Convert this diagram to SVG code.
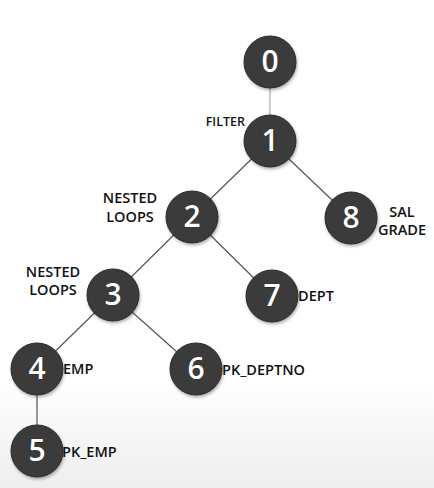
<svg xmlns="http://www.w3.org/2000/svg" width="434" height="488" viewBox="0 0 434 488">
<defs>
<linearGradient id="bg" x1="0" y1="0" x2="0" y2="1">
<stop offset="0" stop-color="#ffffff"/>
<stop offset="0.78" stop-color="#ffffff"/>
<stop offset="1" stop-color="#eeeeee"/>
</linearGradient>
<filter id="sh" x="-30%" y="-30%" width="160%" height="160%">
<feDropShadow dx="1" dy="2" stdDeviation="1.5" flood-color="#000" flood-opacity="0.3"/>
</filter>
</defs>
<style>
.n circle{fill:#3b3b3b;stroke:#2a2a2a;stroke-width:1;filter:url(#sh)}
.n .num{fill:#fff;font-family:"Open Sans","DejaVu Sans",sans-serif;font-size:30px;font-weight:600;text-anchor:middle;stroke:#222;stroke-width:0.6;paint-order:stroke}
.lbl{fill:#111;font-family:"Open Sans","Liberation Sans",sans-serif;font-size:14.5px;font-weight:600}
.e line{stroke:#555;stroke-width:1.2}
</style>
<rect width="434" height="488" fill="url(#bg)"/>
<g id="connectors" class="e">
<line x1="270" y1="62" x2="270" y2="141" style="stroke:#aaa"/>
<line x1="270" y1="141" x2="192" y2="217"/>
<line x1="270" y1="141" x2="351" y2="218"/>
<line x1="192" y1="217" x2="113" y2="295"/>
<line x1="192" y1="217" x2="272" y2="296"/>
<line x1="113" y1="295" x2="37" y2="369"/>
<line x1="113" y1="295" x2="196" y2="369"/>
<line x1="37" y1="369" x2="37" y2="451"/>
</g>
<g id="node0" class="n"><circle cx="270" cy="62" r="26"/><text class="num" x="270" y="72">0</text></g>
<g id="node1" class="n"><circle cx="270" cy="141" r="26"/><text class="num" x="270" y="151">1</text>
<text class="lbl" x="245" y="126" text-anchor="end" style="font-size:12.5px">FILTER</text></g>
<g id="node2" class="n"><circle cx="192" cy="217" r="26"/><text class="num" x="192" y="227">2</text>
<text class="lbl" x="130" y="203" text-anchor="middle">NESTED</text><text class="lbl" x="130" y="222" text-anchor="middle">LOOPS</text></g>
<g id="node3" class="n"><circle cx="113" cy="295" r="26"/><text class="num" x="113" y="305">3</text>
<text class="lbl" x="53" y="277" text-anchor="middle">NESTED</text><text class="lbl" x="53" y="295" text-anchor="middle">LOOPS</text></g>
<g id="node4" class="n"><circle cx="37" cy="369" r="26"/><text class="num" x="37" y="379">4</text>
<text class="lbl" x="63" y="374">EMP</text></g>
<g id="node5" class="n"><circle cx="37" cy="451" r="26"/><text class="num" x="37" y="461">5</text>
<text class="lbl" x="62" y="457">PK_EMP</text></g>
<g id="node6" class="n"><circle cx="196" cy="369" r="26"/><text class="num" x="196" y="379">6</text>
<text class="lbl" x="222" y="375">PK_DEPTNO</text></g>
<g id="node7" class="n"><circle cx="272" cy="296" r="26"/><text class="num" x="272" y="306">7</text>
<text class="lbl" x="298" y="301">DEPT</text></g>
<g id="node8" class="n"><circle cx="351" cy="218" r="26"/><text class="num" x="351" y="228">8</text>
<text class="lbl" x="402" y="217" text-anchor="middle">SAL</text><text class="lbl" x="402" y="235" text-anchor="middle">GRADE</text></g>
</svg>
